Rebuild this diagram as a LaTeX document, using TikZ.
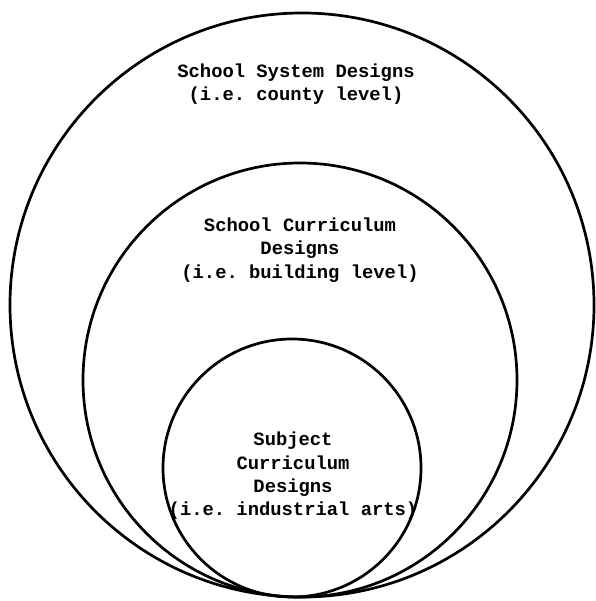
\documentclass[tikz,border=0pt]{standalone}
\usepackage{fontspec}
\setmonofont{Liberation Mono}
\tikzset{
  ring/.style={circle, draw, line width=2.7bp, inner sep=0pt},
  label text/.style={align=center, font=\ttfamily\bfseries\fontsize{18.9}{23.5}\selectfont}
}
\begin{document}
\begin{tikzpicture}[x=1bp, y=-1bp]
                \useasboundingbox (0,0) rectangle (596,601);
                % circles touching at the bottom
                \node[ring, minimum size=584bp] (system) at (302,305) {};
                \node[ring, minimum size=434bp] (school) at (300,380) {};
                \node[ring, minimum size=258bp] (subject) at (292,468) {};

                \node[label text] (systemtext) at (296,84) {School System Designs\\(i.e. county level)};
                \node[label text] (schooltext) at (300,250) {School Curriculum\\Designs\\(i.e. building level)};
                \node[label text] (subjecttext) at (293,476) {Subject\\Curriculum\\Designs\\(i.e. industrial arts)};
            \end{tikzpicture}
\end{document}
